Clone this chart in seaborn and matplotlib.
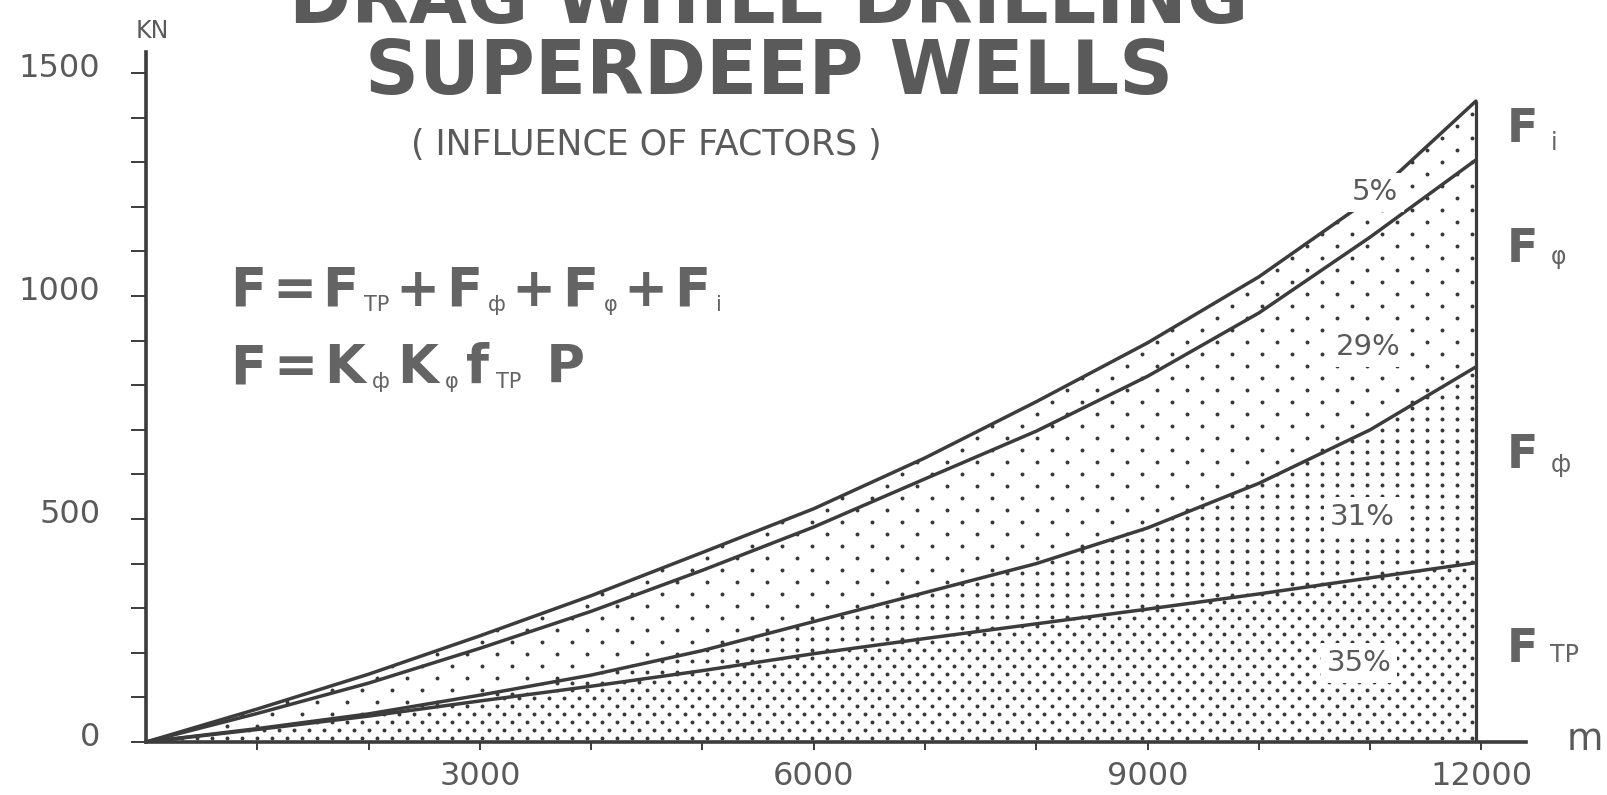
import numpy as np
import pandas as pd
import seaborn as sns
import matplotlib.pyplot as plt
from matplotlib import transforms

# depth along the well, m
depth = [0, 1000, 2000, 3000, 4000, 5000, 6000, 7000, 8000, 9000, 10000, 11000, 11950]
# cumulative drag components, kN
f_tp = [0, 28, 58, 92, 125, 160, 198, 232, 265, 298, 332, 368, 402]
f_phi = [0, 30, 63, 105, 150, 205, 270, 335, 400, 480, 580, 700, 841]
f_psi = [0, 64, 132, 210, 293, 385, 482, 590, 697, 820, 962, 1132, 1305]
f_i = [0, 74, 152, 238, 328, 425, 523, 637, 763, 895, 1043, 1218, 1437]
pct_labels = ['35%', '31%', '29%', '5%']

W, H = 1608, 795
ink = '#3c3c3c'
txt = '#5a5a5a'

sns.set_style('white')
plt.rcParams['font.family'] = ['DejaVu Sans']

df = pd.DataFrame({'depth': depth, 'tp': f_tp, 'phi': f_phi, 'psi': f_psi, 'i': f_i})

fig = plt.figure(figsize=(W / 100, H / 100), dpi=100)
# axes box in pixels: origin at (146, 742), 0.1113 px per m, 0.446 px per kN
ax = fig.add_axes([146 / W, (H - 742) / H, 1380 / W, 690 / H])
ax.set_xlim(0, 12400)
ax.set_ylim(0, 1547)
ax.patch.set_alpha(0)

# dotted bands: (lower, upper, dx px, dy px, staggered)
bands = [
    (np.zeros(len(depth)), df['tp'], 15, 8, True),
    (df['tp'], df['phi'], 15, 11, False),
    (df['phi'], df['psi'], 30, 12, True),
    (df['psi'], df['i'], 30, 12, True),
]
axw, axh = 1380, 690
for lo, hi, dx, dy, stag in bands:
    poly = ax.fill_between(df['depth'], lo, hi, facecolor='white', edgecolor='none', zorder=1)
    xs, ys = [], []
    for k, yy in enumerate(np.arange(4, axh, dy)):
        off = dx / 2 if (stag and k % 2) else 0
        for xx in np.arange(6 + off, axw, dx):
            xs.append(xx / axw)
            ys.append(yy / axh)
    sc = ax.scatter(xs, ys, transform=ax.transAxes, s=8, color='#383838', linewidths=0, zorder=2)
    sc.set_clip_path(poly.get_paths()[0], ax.transData)

for col in ['tp', 'phi', 'psi', 'i']:
    sns.lineplot(data=df, x='depth', y=col, ax=ax, color=ink, linewidth=2.5, legend=False, zorder=3)
ax.vlines(depth[-1], 0, f_i[-1], color=ink, linewidth=2.3, zorder=3)

# percentage labels
pct_pos = [(10900, 177), (10925, 505), (10980, 886), (11040, 1232)]
for s, (px, py) in zip(pct_labels, pct_pos):
    ax.text(px, py, s, ha='center', va='center', fontsize=21, color=txt, zorder=5,
            bbox=dict(boxstyle='square,pad=0.2', fc='white', ec='none'))

# axes styling
sns.despine(ax=ax)
for side in ['left', 'bottom']:
    ax.spines[side].set_linewidth(2.6)
    ax.spines[side].set_color(ink)
ax.set_xlabel('')
ax.set_ylabel('')
yt = list(range(0, 1501, 100))
ax.set_yticks(yt)
ax.set_yticklabels([str(v) if v % 500 == 0 else '' for v in yt])
xt = list(range(1000, 12001, 1000))
ax.set_xticks(xt)
ax.set_xticklabels([str(v) if v % 3000 == 0 else '' for v in xt])
ax.tick_params(axis='y', direction='out', length=11, width=1.4, color=ink, pad=22,
               labelsize=23, labelcolor=txt, left=True)
ax.tick_params(axis='x', direction='out', length=6, width=1.4, color=ink, pad=8,
               labelsize=23, labelcolor=txt, bottom=True)
for lab in ax.get_yticklabels():
    lab.set_transform(lab.get_transform() + transforms.ScaledTranslation(0, 8 / 100, fig.dpi_scale_trans))

fig.text(152 / W, 1 - 31 / H, 'KN', ha='center', va='center', fontsize=17, color=txt)
fig.text(1585 / W, 1 - 740 / H, 'm', ha='center', va='center', fontsize=27, color=txt)

# titles (first line runs off the top edge as in the original)
fig.text(769 / W, 1 - 23 / H, 'DRAG WHILE DRILLING', ha='center', va='baseline',
         fontsize=54, weight='bold', color=txt)
fig.text(769 / W, 1 - 94 / H, 'SUPERDEEP WELLS', ha='center', va='baseline',
         fontsize=54, weight='bold', color=txt)
fig.text(646 / W, 1 - 145 / H, '( INFLUENCE OF FACTORS )', ha='center', va='center',
         fontsize=25, color=txt)

renderer = fig.canvas.get_renderer()


def rich(x, y, parts, gap):
    # parts: (text, size, bold, drop in px)
    for s, size, bold, drop in parts:
        t = fig.text(x / W, 1 - (y + drop) / H, s, fontsize=size, ha='left', va='baseline',
                     weight='bold' if bold else 'normal', color='#646464')
        x += t.get_window_extent(renderer).width + gap


big, sub = 38, 15
rich(230, 306, [('F', big, 1, 0), ('=', big, 1, 0), ('F', big, 1, 0), ('ТР', sub, 0, 5),
                ('+', big, 1, 0), ('F', big, 1, 0), ('ф', sub, 0, 5), ('+', big, 1, 0),
                ('F', big, 1, 0), ('φ', sub, 0, 5), ('+', big, 1, 0), ('F', big, 1, 0),
                ('i', sub, 0, 5)], 6)
rich(230, 383, [('F', big, 1, 0), ('=', big, 1, 0), ('K', big, 1, 0), ('ф', sub, 0, 5),
                ('K', big, 1, 0), ('φ', sub, 0, 5), ('f', big, 1, 0), ('ТР', sub, 0, 5),
                (' P', big, 1, 0)], 7)

# right-hand labels
for base, s, drop in [(142, 'i', 8), (262, 'φ', 2), (468, 'ф', 4), (662, 'ТР', 0)]:
    rich(1507, base, [('F', 33, 1, 0), (s, 17, 0, drop)], 12)

fig.savefig('out.png', dpi=100)
